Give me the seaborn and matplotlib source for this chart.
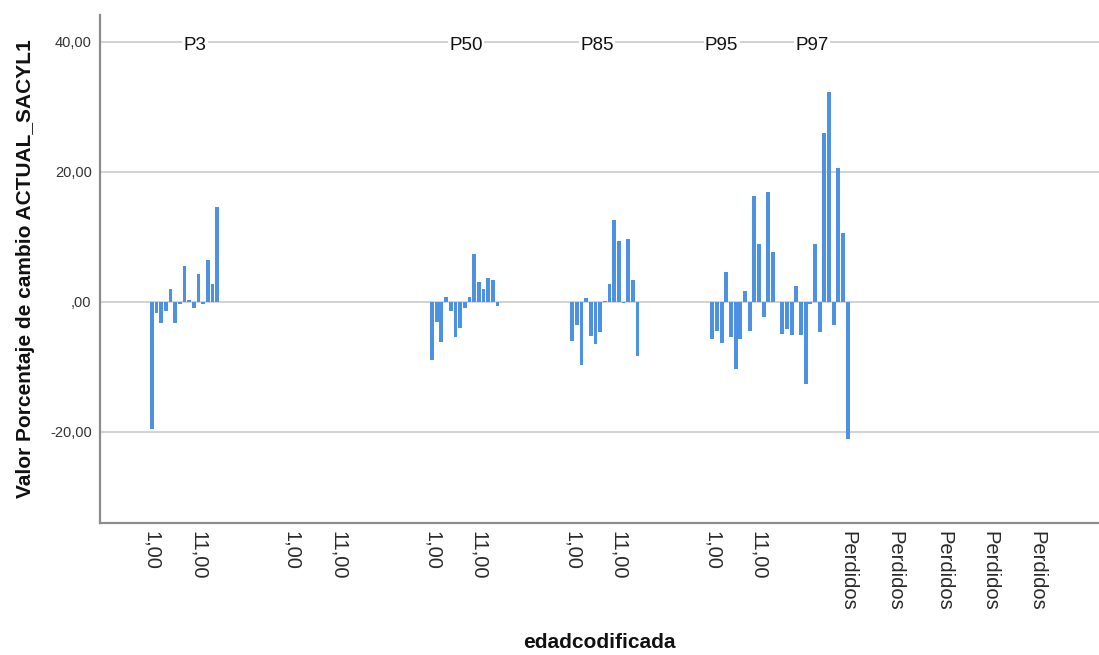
import matplotlib
matplotlib.use("Agg")
import matplotlib.pyplot as plt
import seaborn as sns
import pandas as pd

# ---- data ----
groups = ["P3", "P50", "P85", "P95", "P97"]
p3_values = [-19.6, -1.8, -3.3, -1.5, 1.9, -3.3, -0.3, 5.5, 0.2, -1.0, 4.2, -0.4, 6.4, 2.7, 14.5]
p50_values = [-9.0, -3.1, -6.2, 0.7, -1.5, -5.4, -4.1, -1.0, 0.7, 7.4, 3.1, 2.0, 3.6, 3.4, -0.7]
p85_values = [-6.1, -3.6, -9.7, 0.6, -5.3, -6.5, -4.7, 0.15, 2.7, 12.5, 9.4, -0.25, 9.7, 3.4, -8.4]
p95_values = [-5.8, -4.5, -6.3, 4.5, -5.5, -10.4, -5.8, 1.6, -4.5, 16.2, 8.9, -2.4, 16.9, 7.6]
p97_values = [-5.0, -4.2, -5.2, 2.4, -5.2, -12.6, -0.4, 8.8, -4.7, 25.9, 32.3, -3.6, 20.6, 10.5, -21.2]
tick_labels = ["1,00", "11,00"] * 5 + ["Perdidos"] * 5
ytick_values = [-20, 0, 20, 40]
ytick_labels = ["-20,00", ",00", "20,00", "40,00"]

# ---- layout (slot positions on the categorical axis) ----
group_start = [0, 60, 90, 120, 135]
header_pos = [9.2, 67.3, 95.3, 122.0, 141.3]
tick_pos = [0, 10, 30, 40, 60, 70, 90, 100, 120, 130, 149, 159, 169.5, 179.5, 189.5]

series = [p3_values, p50_values, p85_values, p95_values, p97_values]
rows = []
for g, start, vals in zip(groups, group_start, series):
    for i, v in enumerate(vals):
        rows.append({"group": g, "slot": start + i, "value": v})
df = pd.DataFrame(rows)

sns.set_style("white")
plt.rcParams["font.family"] = ["Liberation Sans", "DejaVu Sans"]

W, H = 1099, 655
fig = plt.figure(figsize=(W / 100, H / 100), dpi=100)
ax = fig.add_axes([100 / W, 1 - 523 / H, (W - 100) / W, (523 - 15) / H])

for y in ytick_values:
    ax.axhline(y, color="#d2d2d2", lw=1.4, zorder=0)

sns.barplot(data=df, x="slot", y="value", native_scale=True, color="#4D91E3",
            saturation=1, width=0.82, errorbar=None, edgecolor="none", ax=ax, zorder=2)

ax.set_xlim(-11.1, 202.8)
ax.set_ylim(-34.05, 44.1)

ax.set_xticks(tick_pos)
ax.set_xticklabels(tick_labels, rotation=-90, fontsize=14.5, color="#2a2a2a")
ax.set_yticks(ytick_values)
ax.set_yticklabels(ytick_labels, fontsize=10.5, color="#333333")
ax.tick_params(axis="both", length=0)
ax.tick_params(axis="x", pad=6)
ax.tick_params(axis="y", pad=6)

for g, xp in zip(groups, header_pos):
    ax.text(xp, 39.4, g, ha="center", va="center", fontsize=13.5, color="#111111",
            bbox=dict(facecolor="white", edgecolor="none", pad=1.0), zorder=3)

ax.set_xlabel("edadcodificada", fontsize=15, fontweight="bold", color="#111111", labelpad=16)
ax.set_ylabel("Valor Porcentaje de cambio ACTUAL_SACYL1", fontsize=15, fontweight="bold",
              color="#111111", labelpad=11)

for s in ["top", "right"]:
    ax.spines[s].set_visible(False)
for s in ["left", "bottom"]:
    ax.spines[s].set_color("#8c8c8c")
    ax.spines[s].set_linewidth(1.6)

fig.savefig("out.png", dpi=100)
